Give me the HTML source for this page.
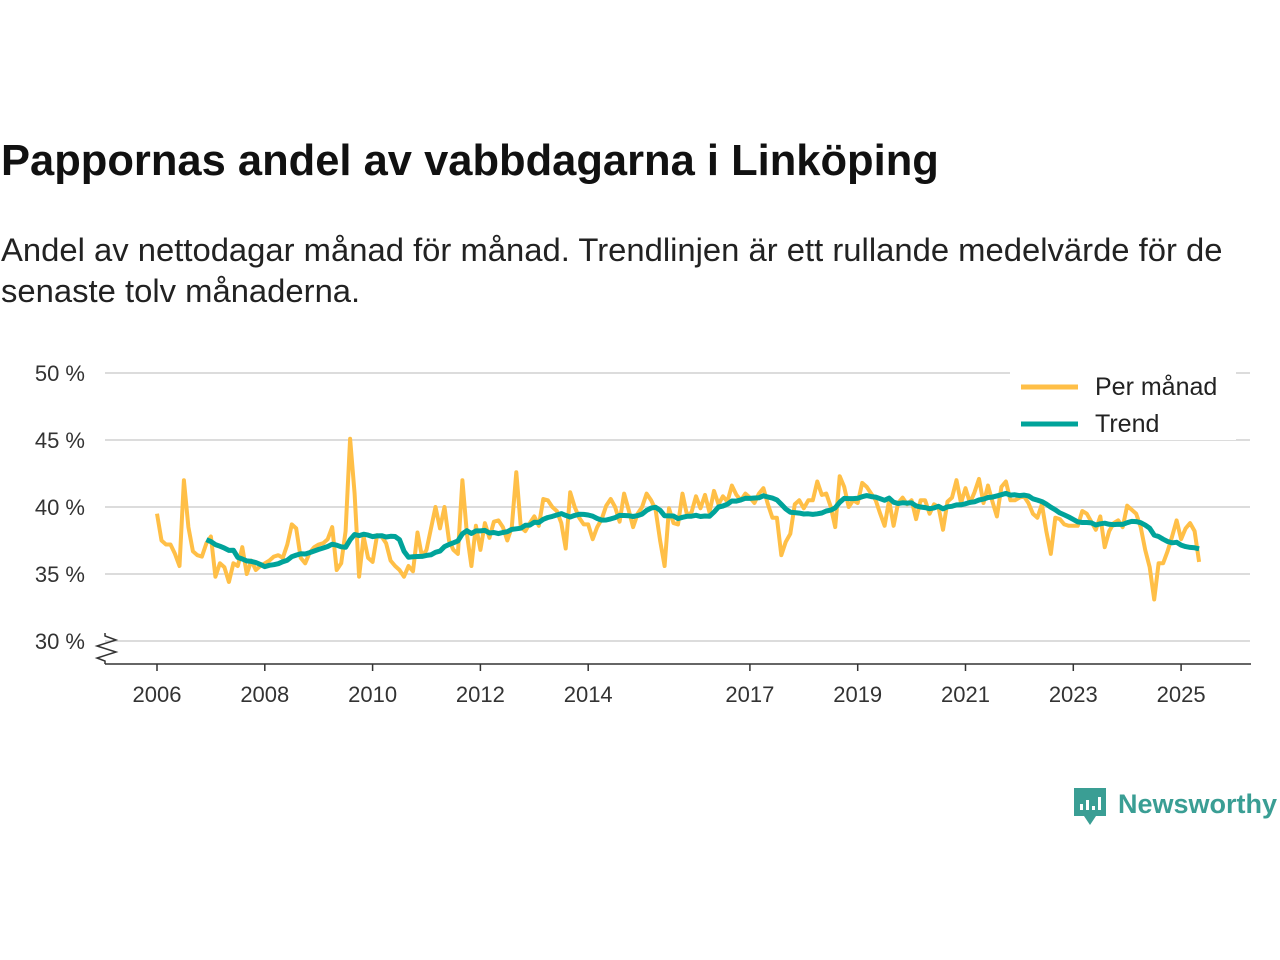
<!DOCTYPE html>
<html><head><meta charset="utf-8">
<style>
body{margin:0;background:#fff;width:1280px;height:960px;overflow:hidden;font-family:"Liberation Sans",sans-serif;}
#title{position:absolute;left:1px;top:137px;font-size:43.5px;font-weight:bold;color:#111;margin:0;white-space:nowrap;}
#sub{position:absolute;left:1px;top:229px;font-size:32.8px;line-height:41px;color:#222;width:1279px;white-space:nowrap;}
svg{position:absolute;left:0;top:0;}
</style></head><body>
<h1 id="title">Pappornas andel av vabbdagarna i Linköping</h1>
<div id="sub">Andel av nettodagar månad för månad. Trendlinjen är ett rullande medelvärde för de<br>senaste tolv månaderna.</div>
<svg id="chart" width="1280" height="960"></svg>
<script>
const yTicks=[30,35,40,45,50];
const yTickLabels=["30 %","35 %","40 %","45 %","50 %"];
const xTicks=[2006,2008,2010,2012,2014,2017,2019,2021,2023,2025];
const startYear=2006;
const monthly=[
39.5,37.5,37.2,37.2,36.5,35.6,42.0,38.5,36.7,36.4,36.3,37.3,
37.8,34.8,35.8,35.5,34.4,35.8,35.6,37.0,35.0,36.0,35.3,35.6,
35.8,36.0,36.3,36.4,36.2,37.2,38.7,38.4,36.2,35.8,36.6,37.0,
37.2,37.3,37.6,38.5,35.3,35.8,38.2,45.1,41.0,34.8,37.8,36.2,
35.9,37.9,37.8,37.3,36.0,35.6,35.3,34.8,35.6,35.2,38.1,36.3,
36.8,38.4,40.0,38.4,40.0,37.5,36.8,36.5,42.0,38.0,35.6,38.6,
36.8,38.8,37.7,38.9,39.0,38.5,37.5,38.5,42.6,38.5,38.2,38.8,
39.3,38.6,40.6,40.5,40.0,39.7,38.8,36.9,41.1,40.0,39.2,38.7,
38.7,37.6,38.5,39.1,40.1,40.6,40.0,38.9,41.0,39.8,38.5,39.5,
40.0,41.0,40.5,39.8,37.5,35.6,39.9,38.8,38.7,41.0,39.4,39.6,
40.8,39.9,40.9,39.6,41.2,40.2,40.8,40.4,41.6,40.9,40.5,41.0,
40.7,40.3,41.0,41.4,40.2,39.2,39.2,36.4,37.4,38.0,40.2,40.5,
39.9,40.5,40.5,41.9,40.9,41.0,40.0,38.5,42.3,41.5,40.0,40.5,
40.3,41.8,41.5,41.0,40.5,39.5,38.6,40.5,38.6,40.3,40.7,40.2,
40.5,39.1,40.5,40.5,39.5,40.2,40.0,38.3,40.4,40.7,42.0,40.3,
41.4,40.3,41.1,42.1,40.3,41.6,40.4,39.3,41.5,41.9,40.5,40.5,
40.7,40.8,40.3,39.5,39.2,40.2,38.2,36.5,39.2,39.1,38.7,38.6,
38.6,38.6,39.7,39.5,38.9,38.3,39.3,37.0,38.2,38.8,39.0,38.5,
40.1,39.8,39.5,38.5,36.8,35.5,33.1,35.8,35.8,36.7,37.8,39.0,
37.6,38.4,38.8,38.2,35.9];
const NS="http://www.w3.org/2000/svg";
const svg=document.getElementById('chart');
function X(t){return 157+(t-2006)*53.9;}
function Y(v){return 574-(v-35)*13.4;}
function mk(tag,attrs,parent){const e=document.createElementNS(NS,tag);for(const k in attrs)e.setAttribute(k,attrs[k]);(parent||svg).appendChild(e);return e;}
yTicks.forEach((v,i)=>{
  const g=mk('line',{x1:105,x2:1250,y1:Y(v),y2:Y(v),stroke:'#dcdcdc','stroke-width':2});
  
  
  const t=mk('text',{x:85,y:Y(v)+8,'text-anchor':'end','font-size':22,fill:'#333'});
  t.textContent=yTickLabels[i];
  
  
});
const ax=mk('line',{x1:105,x2:1251,y1:664,y2:664,stroke:'#333','stroke-width':1.5});


const zz=mk('path',{d:'M105,633 L105,636 L116,640 L97,646 L116,652 L97,658 L105,661 L105,664',fill:'none',stroke:'#333','stroke-width':1.5});


xTicks.forEach(yr=>{
  const l=mk('line',{x1:X(yr),x2:X(yr),y1:664,y2:671,stroke:'#333','stroke-width':1.5});
  
  
  const t=mk('text',{x:X(yr),y:702,'text-anchor':'middle','font-size':22,fill:'#333'});
  t.textContent=yr;
  
  
});
const mpts=monthly.map((v,i)=>X(startYear+i/12).toFixed(1)+','+Y(v).toFixed(1));
const ml=mk('polyline',{points:mpts.join(' '),fill:'none',stroke:'#ffbf47','stroke-width':4,'stroke-linejoin':'round'});


const tpts=[];
for(let i=11;i<monthly.length;i++){let s=0;for(let j=i-11;j<=i;j++)s+=monthly[j];tpts.push(X(startYear+i/12).toFixed(1)+','+Y(s/12).toFixed(1));}
const tl=mk('polyline',{points:tpts.join(' '),fill:'none',stroke:'#00a39a','stroke-width':5,'stroke-linejoin':'round'});


const lg=mk('g',{});


mk('rect',{x:1010,y:362,width:226,height:78,fill:'#fff'},lg);
mk('line',{x1:1021,x2:1078,y1:387,y2:387,stroke:'#ffbf47','stroke-width':5},lg);
mk('line',{x1:1021,x2:1078,y1:424,y2:424,stroke:'#00a39a','stroke-width':5},lg);
const l1=mk('text',{x:1095,y:395,'font-size':25,fill:'#222'},lg);l1.textContent='Per månad';


const l2=mk('text',{x:1095,y:432,'font-size':25,fill:'#222'},lg);l2.textContent='Trend';


const lo=mk('g',{});


mk('path',{d:'M1074,788 h32 v28 h-10 l-6,9 l-6,-9 h-10 z',fill:'#3a9e94'},lo);
[[1080,804,6],[1086,800,10],[1092,806,4],[1098,797,13]].forEach(b=>mk('rect',{x:b[0],y:b[1],width:3,height:b[2],fill:'#fff'},lo));
const lt=mk('text',{x:1118,y:813,'font-size':27,'font-weight':'bold',fill:'#3a9e94'},lo);lt.textContent='Newsworthy';
</script>
</body></html>
